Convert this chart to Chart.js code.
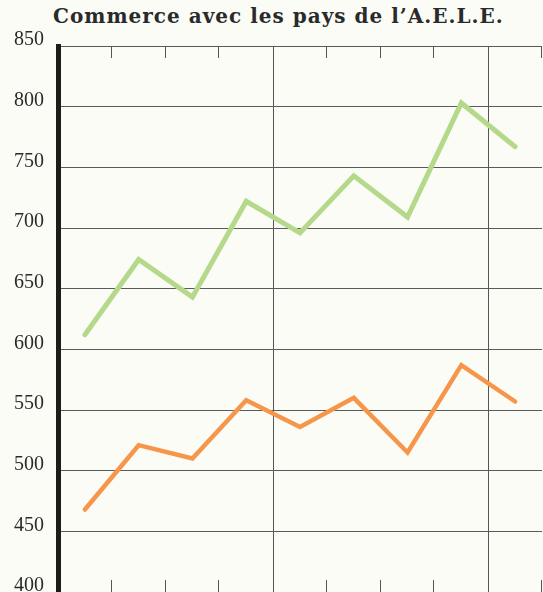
<!DOCTYPE html>
<html lang="fr">
<head>
<meta charset="utf-8">
<script src="https://cdn.jsdelivr.net/npm/chart.js@4/dist/chart.umd.min.js"></script>
<style>
  html, body { margin: 0; padding: 0; background: #fcfcf7; overflow: hidden; }
  #wrap { position: relative; width: 543px; height: 592px; }
  #title {
    position: absolute; left: 53px; top: 4px;
    font: bold 20px "DejaVu Serif", serif; color: #2a2a2a;
    letter-spacing: 1px; white-space: nowrap;
  }
  canvas { position: absolute; left: 0; top: 0; }
</style>
</head>
<body>
<div id="wrap">
  <div id="title">Commerce avec les pays de l’A.E.L.E.</div>
  <canvas id="chart" width="543" height="592"></canvas>
</div>
<script>
// ---------------- DATA ----------------
const periods = ["1", "2", "3", "4", "5", "6", "7", "8", "9"];
const upperSeries = [612, 674, 643, 722, 696, 743, 709, 803, 767];
const lowerSeries = [468, 521, 510, 558, 536, 560, 515, 587, 557];
const yTicks = [400, 450, 500, 550, 600, 650, 700, 750, 800, 850];

// full-height separators, other edges only get short ticks
const fullLines = [4, 8];

// ---------------- SHORT TICKS ----------------
const edgeTicks = {
  id: "edgeTicks",
  afterDatasetsDraw(chart) {
    const { ctx, chartArea, scales } = chart;
    const x = scales.x;
    ctx.save();
    ctx.strokeStyle = "#555";
    ctx.lineWidth = 1;
    for (let i = 1; i <= periods.length; i++) {
      if (fullLines.includes(i)) continue;
      const px = Math.round(x.getPixelForValue(i - 0.5)) - 0.5;
      ctx.beginPath();
      ctx.moveTo(px, chartArea.top);
      ctx.lineTo(px, chartArea.top + 12);
      ctx.moveTo(px, chartArea.bottom);
      ctx.lineTo(px, chartArea.bottom - 12);
      ctx.stroke();
    }
    ctx.restore();
  },
};

// ---------------- CHART ----------------
new Chart(document.getElementById("chart"), {
  type: "line",
  data: {
    labels: periods,
    datasets: [
      {
        data: upperSeries,
        borderColor: "#b4d98b",
        borderWidth: 5,
        pointRadius: 0,
        borderCapStyle: "round",
        tension: 0,
      },
      {
        data: lowerSeries,
        borderColor: "#f5964a",
        borderWidth: 4.5,
        pointRadius: 0,
        borderCapStyle: "round",
        tension: 0,
      },
    ],
  },
  options: {
    responsive: false,
    animation: false,
    layout: { padding: { top: 46, right: 1, bottom: 0, left: 0 } },
    plugins: {
      legend: { display: false },
      tooltip: { enabled: false },
    },
    scales: {
      x: {
        offset: true,
        ticks: { display: false },
        border: { display: false },
        grid: {
          offset: true,
          drawTicks: false,
          lineWidth: 1,
          color: (c) => (fullLines.includes(c.index) ? "#555" : "transparent"),
        },
      },
      y: {
        min: yTicks[0],
        max: yTicks[yTicks.length - 1],
        afterBuildTicks: (scale) => {
          scale.ticks = yTicks.map((v) => ({ value: v }));
        },
        afterFit: (scale) => {
          scale.width = 58;
          scale.paddingTop = 0;
          scale.paddingBottom = 0;
        },
        ticks: {
          padding: 14,
          labelOffset: -6,
          color: "#2a2a2a",
          font: { family: "'Liberation Serif', serif", size: 20 },
        },
        border: { display: true, color: "#1c1c1c", width: 5 },
        grid: { drawTicks: false, color: "#5a5a5a", lineWidth: 1 },
      },
    },
  },
  plugins: [edgeTicks],
});
</script>
</body>
</html>
